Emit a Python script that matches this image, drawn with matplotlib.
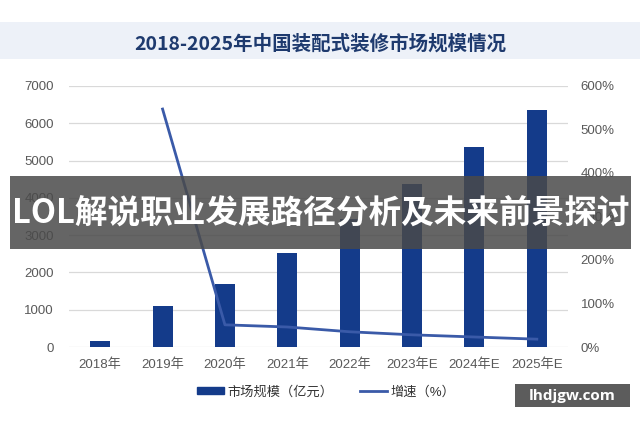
import matplotlib.pyplot as plt
import matplotlib.patches as mpatches
from matplotlib.lines import Line2D
import numpy as np

plt.rcParams['font.family'] = ['Liberation Sans', 'Noto Sans CJK SC']

# data
years = ['2018年', '2019年', '2020年', '2021年', '2022年', '2023年E', '2024年E', '2025年E']
market_size = [165, 1100, 1690, 2520, 3430, 4370, 5360, 6350]   # 亿元
growth = [np.nan, 547, 51, 46, 35, 28, 23, 18]                  # %
left_ticks = [0, 1000, 2000, 3000, 4000, 5000, 6000, 7000]
right_ticks = [0, 100, 200, 300, 400, 500, 600]

bar_color = '#143b8a'
line_color = '#3a5aa8'
tick_color = '#595959'

fig = plt.figure(figsize=(6.4, 4.26), dpi=100)

# title band
fig.patches.append(mpatches.Rectangle((0, 1 - 59 / 426), 1, 37 / 426, transform=fig.transFigure,
                                      facecolor='#edf1f8', edgecolor='none', zorder=0))
fig.text(0.5, 1 - 44 / 426, '2018-2025年中国装配式装修市场规模情况', ha='center', va='center',
         fontsize=14, fontweight='bold', color='#1e3a6e',
         family=['Noto Sans CJK SC'])

# axes: x 69..568 px, y 86..347 px
ax = fig.add_axes([69 / 640, 1 - 347 / 426, 499 / 640, 261 / 426])
x = np.arange(len(years))
ax.bar(x, market_size, width=0.32, color=bar_color, zorder=2)
ax.set_xlim(-0.5, len(years) - 0.5)
ax.set_ylim(0, 7000)
ax.set_yticks(left_ticks)
ax.set_yticklabels([str(v) for v in left_ticks])
ax.set_xticks(x)
ax.set_xticklabels(years)
ax.grid(axis='y', color='#d9d9d9', linewidth=0.9, zorder=0)
for s in ax.spines.values():
    s.set_visible(False)
ax.tick_params(axis='both', length=0, colors=tick_color, labelsize=9.5)
ax.tick_params(axis='y', pad=11)
ax.tick_params(axis='x', pad=8)

ax2 = ax.twinx()
ax2.plot(x, growth, color=line_color, linewidth=2, zorder=3)
ax2.set_ylim(0, 600)
ax2.set_yticks(right_ticks)
ax2.set_yticklabels([f'{v}%' for v in right_ticks])
for s in ax2.spines.values():
    s.set_visible(False)
ax2.tick_params(axis='y', length=0, colors=tick_color, labelsize=9.5, pad=9)

# legend
handles = [mpatches.Patch(color=bar_color, label='市场规模（亿元）'),
           Line2D([0], [0], color=line_color, linewidth=2, label='增速（%）')]
fig.legend(handles=handles, loc='center', bbox_to_anchor=(0.51, 1 - 392 / 426), ncol=2,
           frameon=False, fontsize=9.5, handlelength=2.0, handleheight=0.5,
           columnspacing=2.0, handletextpad=0.3,
           labelcolor='#333333')

# overlay banner
fig.patches.append(mpatches.Rectangle((10 / 640, 1 - 249 / 426), 621 / 640, 73 / 426,
                                      transform=fig.transFigure, facecolor='#4a4a4a',
                                      alpha=0.85, edgecolor='none', zorder=10))
fig.text(12 / 640, 1 - 213 / 426, 'LOL解说职业发展路径分析及未来前景探讨', ha='left', va='center',
         fontsize=23.5, fontweight='bold', color='white', zorder=11,
         family=['Noto Sans CJK SC'])

# site tag
fig.patches.append(mpatches.Rectangle((515 / 640, 1 - 407 / 426), 115 / 640, 23 / 426,
                                      transform=fig.transFigure, facecolor='#4a4a4a',
                                      alpha=0.9, edgecolor='none', zorder=10))
fig.text(572 / 640, 1 - 396 / 426, 'lhdjgw.com', ha='center', va='center',
         fontsize=11, fontweight='bold', color='white', zorder=11,
         family=['Open Sans'])

fig.savefig('out.png', dpi=100)
